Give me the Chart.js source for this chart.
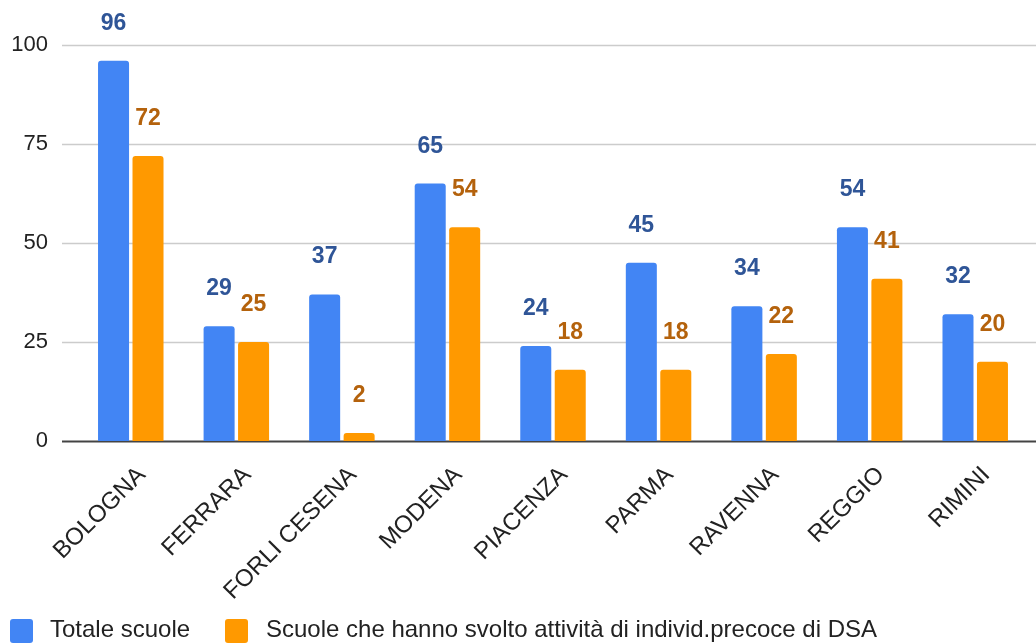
<!DOCTYPE html>
<html>
<head>
<meta charset="utf-8">
<script src="https://cdn.jsdelivr.net/npm/chart.js@4"></script>
<style>
  body { margin: 0; background: #fff; }
  #wrap { position: relative; width: 1036px; height: 643px; overflow: hidden; }
  .lg-box { position: absolute; width: 23px; height: 24px; border-radius: 3px; top: 619px; }
  .lg-txt { position: absolute; top: 615px; font: 24px "Liberation Sans", Arial, sans-serif; color: #222; white-space: nowrap; }
</style>
</head>
<body>
<div id="wrap">
  <canvas id="chart" width="1036" height="643"></canvas>
  <div class="lg-box" style="left:10px;background:#4285f4"></div>
  <div class="lg-txt" style="left:50px">Totale scuole</div>
  <div class="lg-box" style="left:225px;background:#ff9900"></div>
  <div class="lg-txt" style="left:266px">Scuole che hanno svolto attività di individ.precoce di DSA</div>
</div>
<script>
/* ---------- DATA ---------- */
const provinces = ['BOLOGNA', 'FERRARA', 'FORLI CESENA', 'MODENA', 'PIACENZA', 'PARMA', 'RAVENNA', 'REGGIO', 'RIMINI'];
const totaleScuole = [96, 29, 37, 65, 24, 45, 34, 54, 32];
const scuoleDSA = [72, 25, 2, 54, 18, 18, 22, 41, 20];
const yTicks = [0, 25, 50, 75, 100];

const labelColors = ['#2f5597', '#b4620c'];

/* ---------- PLUGINS ---------- */
// grid lines reach wider than the bar area, like the original
const wideGrid = {
  id: 'wideGrid',
  beforeDatasetsDraw(chart) {
    const { ctx, scales: { y } } = chart;
    ctx.save();
    yTicks.forEach(v => {
      const py = Math.round(y.getPixelForValue(v)) + 0.5;
      ctx.beginPath();
      ctx.moveTo(62, py);
      ctx.lineTo(1036, py);
      ctx.lineWidth = v === 0 ? 2 : 1.5;
      ctx.strokeStyle = v === 0 ? '#444' : '#cccccc';
      ctx.stroke();
    });
    ctx.restore();
  }
};

const valueLabels = {
  id: 'valueLabels',
  afterDatasetsDraw(chart) {
    const { ctx } = chart;
    ctx.save();
    ctx.font = 'bold 23px "Liberation Sans", Arial, sans-serif';
    ctx.textAlign = 'center';
    ctx.textBaseline = 'alphabetic';
    chart.data.datasets.forEach((ds, di) => {
      ctx.fillStyle = labelColors[di];
      chart.getDatasetMeta(di).data.forEach((bar, i) => {
        ctx.fillText(ds.data[i], bar.x, bar.y - 31);
      });
    });
    ctx.restore();
  }
};

/* ---------- CHART ---------- */
new Chart(document.getElementById('chart'), {
  type: 'bar',
  data: {
    labels: provinces,
    datasets: [
      {
        label: 'Totale scuole',
        data: totaleScuole,
        backgroundColor: '#4285f4',
        borderRadius: { topLeft: 3, topRight: 3 },
        borderSkipped: 'bottom'
      },
      {
        label: 'Scuole che hanno svolto attività di individ.precoce di DSA',
        data: scuoleDSA,
        backgroundColor: '#ff9900',
        borderRadius: { topLeft: 3, topRight: 3 },
        borderSkipped: 'bottom'
      }
    ]
  },
  options: {
    responsive: false,
    animation: false,
    layout: { padding: { top: 45, right: 8, left: 0, bottom: 0 } },
    datasets: { bar: { categoryPercentage: 0.653, barPercentage: 0.9 } },
    plugins: {
      legend: { display: false },
      tooltip: { enabled: false }
    },
    scales: {
      x: {
        grid: { display: false },
        border: { display: false },
        ticks: {
          color: '#222',
          font: { size: 24, family: '"Liberation Sans", Arial, sans-serif' },
          minRotation: 45,
          maxRotation: 45,
          padding: 12,
          labelOffset: 11
        },
        afterFit(s) { s.height = 643 - 441; }
      },
      y: {
        min: 0,
        max: 100,
        grid: { display: false },
        border: { display: false },
        afterBuildTicks(s) { s.ticks = yTicks.map(v => ({ value: v })); },
        ticks: {
          color: '#222',
          padding: 22,
          font: { size: 22, family: '"Liberation Sans", Arial, sans-serif' }
        },
        afterFit(s) { s.width = 78; }
      }
    }
  },
  plugins: [wideGrid, valueLabels]
});
</script>
</body>
</html>
